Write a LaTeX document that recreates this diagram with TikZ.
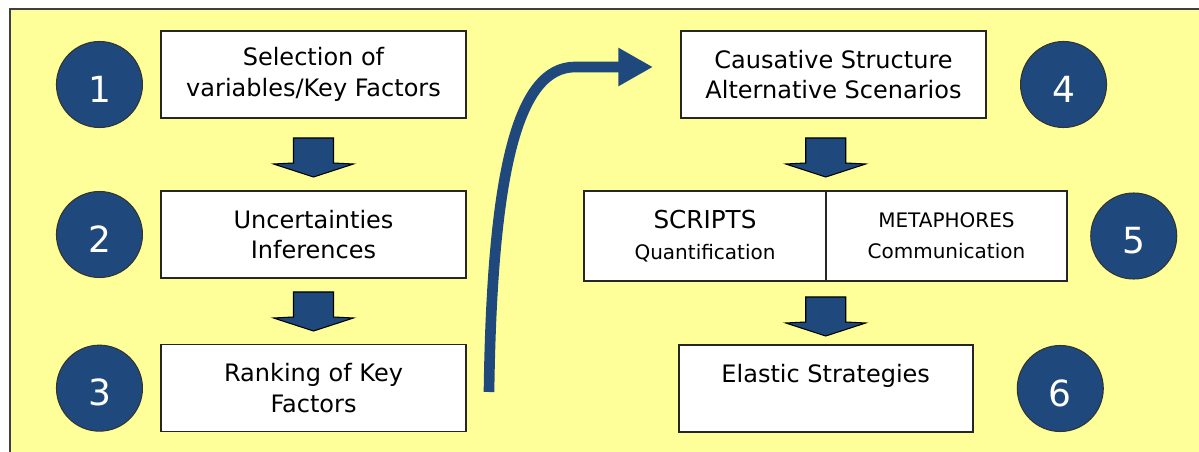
\documentclass[tikz,border=0pt]{standalone}
\usepackage{fontspec}
\setmainfont{DejaVu Sans}
\usetikzlibrary{positioning}
\usetikzlibrary{calc}
\usetikzlibrary{arrows.meta}
\definecolor{paleyellow}{RGB}{255,255,153}
\definecolor{navy}{RGB}{31,73,125}
\tikzset{
  keybox/.style={draw=black!85, line width=1.2pt, fill=white, outer sep=0pt, inner sep=0pt,
    minimum width=228.75pt, minimum height=65.25pt, align=center,
    font=\fontsize{18}{23}\selectfont},
  numdot/.style={circle, draw=black!80, line width=0.8pt, fill=navy, text=white,
    minimum size=64.5pt, inner sep=0pt, text height=27pt, font=\fontsize{27}{27}\selectfont},
  downarrow/.pic={\draw[fill=navy, draw=black, line width=0.8pt]
    (-20,0) -- (20,0) -- (20,25) -- (40,26) -- (0,39) -- (-40,26) -- (-20,25) -- cycle;}
}

\begin{document}
\begin{tikzpicture}[x=0.75pt, y=-0.75pt]
            \useasboundingbox (0,0) rectangle (1199,452);
            \clip (0,0) rectangle (1199,452);
            \draw[fill=paleyellow, draw=black!75, line width=1.5pt] (10,9) rectangle (1220,480);

            % left column
            \node[keybox] (b1) at (313.5,74.5) {Selection of\\variables/Key Factors};
            \node[keybox] (b2) [below=54.75pt of b1] {Uncertainties\\Inferences};
            \node[keybox] (b3) [below=50pt of b2] {Ranking of Key\\Factors};
            \node[numdot] (c1) [left=13.5pt of b1, yshift=-7.5pt] {1};
            \node[numdot] (c2) [left=13.5pt of b2] {2};
            \node[numdot] (c3) [left=13.5pt of b3] {3};

            % right column
            \node[keybox] (b4) at (833.5,74.5) {Causative Structure\\Alternative Scenarios};
            \node[keybox, minimum width=181.1pt, minimum height=67.5pt] (b5a) at (705,236)
                {\fontsize{18.5}{24}\selectfont SCRIPTS\\\fontsize{15}{24}\selectfont Quantification};
            \node[keybox, minimum width=181.1pt, minimum height=67.5pt] (b5b) [right=0pt of b5a]
                {\fontsize{15}{24}\selectfont METAPHORES\\\fontsize{15}{24}\selectfont Communication};
            \node[keybox, minimum width=220.5pt] (b6) [below=48pt of b5a.south east] {Elastic Strategies\\~};
            \node[numdot] (c4) [right=25.5pt of b4, yshift=-7.5pt] {4};
            \node[numdot] (c5) [right=17.25pt of b5b] {5};
            \node[numdot] (c6) [right=33pt of b6] {6};

            % block arrows
            \pic at ($(b1.south)+(0,20)$) {downarrow};
            \pic at ($(b2.south)+(0,14)$) {downarrow};
            \pic at ($(b5a.north east |- b4.south)+(0,20)$) {downarrow};
            \pic at ($(b5a.south east)+(0,16)$) {downarrow};

            % jump to the right column
            \coordinate (up) at (489,392);
            \coordinate (tip) at (653,67);
            \draw[navy, line width=8pt, -{Triangle[length=26pt,width=27pt]}]
                (up) .. controls (492,170) and (518,67) .. (575,67) -- (tip);
        \end{tikzpicture}
\end{document}
